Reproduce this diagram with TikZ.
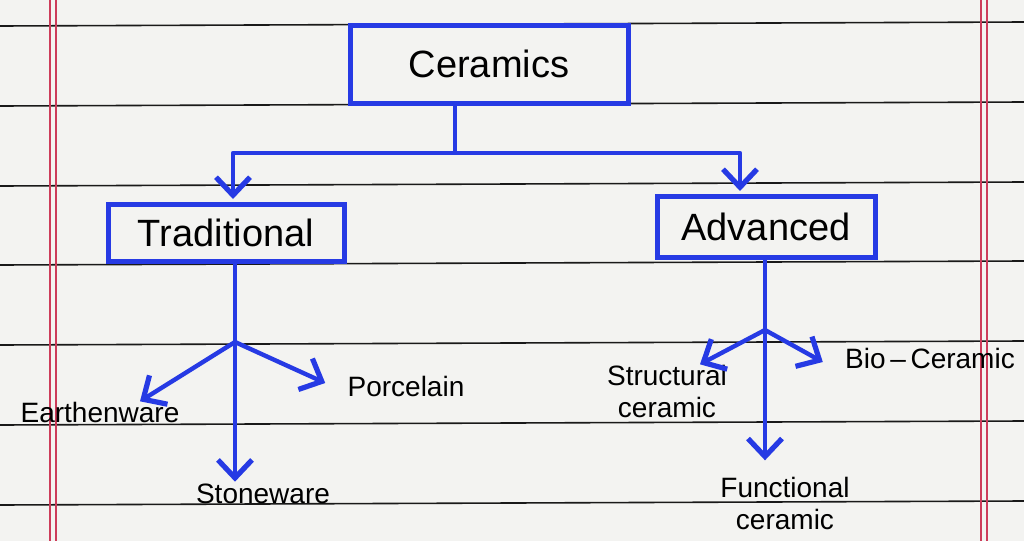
\documentclass[tikz,border=0pt]{standalone}
\usepackage{fontspec}
\setmainfont{Liberation Sans}
\usetikzlibrary{arrows.meta,calc}
\definecolor{ink}{RGB}{38,58,228}
\definecolor{paper}{RGB}{243,243,241}
\definecolor{rulecol}{RGB}{25,25,25}
\definecolor{margincol}{RGB}{205,60,90}
\begin{document}
\begin{tikzpicture}[x=0.5pt,y=-0.5pt,
 box/.style={draw=ink,line width=2.5pt,rectangle,inner sep=0pt,font=\fontsize{19}{21}\selectfont},
 leaf/.style={font=\fontsize{14}{16}\selectfont,inner sep=1pt,align=center},
 link/.style={draw=ink,line width=2.2pt,line join=round},
 arr/.style={link,-{Straight Barb[length=9pt,width=17pt,line width=2.6pt]}},
 paperline/.style={draw=rulecol,line width=0.8pt},
 marginline/.style={draw=margincol,line width=0.8pt}
]
\useasboundingbox (0,0) rectangle (1024,541);
\fill[paper] (0,0) rectangle (1024,541);
% ruled lines
\foreach \yy in {24,104,184,263,343,423,503}
  \draw[paperline] (0,\yy+2) -- (1024,\yy-2);
% margins
\foreach \xx in {50,56,981,987}
  \draw[marginline] (\xx,0) -- (\xx,541);

% boxes
\node[box,minimum width=139pt,minimum height=39pt] (cer) at (489,64) {Ceramics};
\node[box,minimum width=118pt,minimum height=28.5pt] (trad) at (226,233) {Traditional};
\node[box,minimum width=109pt,minimum height=30.5pt] (adv) at (766,227) {Advanced};

% leaves
\node[leaf] (earth) at (100,412) {Earthenware};
\node[leaf] (porc) at (406,386) {Porcelain};
\node[leaf] (stone) at (263,494) {Stoneware};
\node[leaf] (struct) at (667,391) {Structural\\ceramic};
\node[leaf] (bio) at (930,358) {Bio\,--\,Ceramic};
\node[leaf] (func) at (785,503) {Functional\\ceramic};

% top tree
\coordinate (split) at (455,153);
\draw[link] (split |- cer.south) -- (split);
\draw[arr] (split) -| ($(trad.north)+(7,-3)$);
\draw[arr] (split) -| ($(adv.north)+(-26,-3)$);

% traditional branches
\coordinate (tj) at (235,342);
\draw[link] (tj |- trad.south) -- (tj);
\draw[arr] (tj) -- (tj |- stone.north);
\draw[arr] (tj) -- ($(earth.north)+(40,2)$);
\draw[arr] (tj) -- ($(porc.west)+(-20,-3)$);

% advanced branches
\coordinate (aj) at (765,330);
\draw[link] (aj |- adv.south) -- (aj);
\draw[arr] (aj) -- ($(aj |- func.north)+(0,-14)$);
\draw[arr] (aj) -- ($(struct.north)+(33,2)$);
\draw[arr] (aj) -- ($(bio.west)+(-20,4)$);
\end{tikzpicture}
\end{document}
